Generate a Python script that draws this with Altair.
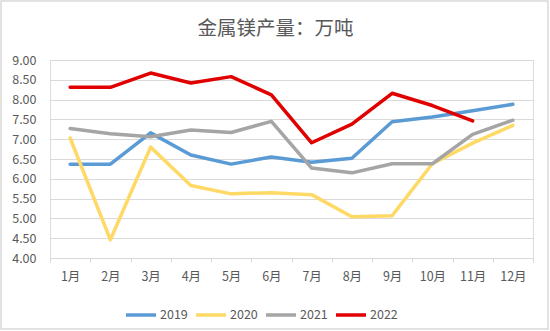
import json
import altair as alt
import pandas as pd

months = ["1月", "2月", "3月", "4月", "5月", "6月", "7月", "8月", "9月", "10月", "11月", "12月"]
years = ["2019", "2020", "2021", "2022"]
colors = ["#5B9BD5", "#FFD966", "#A5A5A5", "#E00000"]

v2019 = [6.37, 6.37, 7.16, 6.60, 6.37, 6.55, 6.42, 6.52, 7.44, 7.56, 7.72, 7.88]
v2020 = [7.03, 4.46, 6.80, 5.83, 5.62, 5.65, 5.60, 5.04, 5.07, 6.38, 6.90, 7.35]
v2021 = [7.27, 7.14, 7.06, 7.23, 7.17, 7.45, 6.27, 6.15, 6.38, 6.38, 7.12, 7.48]
v2022 = [8.31, 8.31, 8.67, 8.42, 8.58, 8.12, 6.91, 7.38, 8.16, 7.85, 7.46]

y_ticks = [4.0, 4.5, 5.0, 5.5, 6.0, 6.5, 7.0, 7.5, 8.0, 8.5, 9.0]

rows = []
for yr, vals in zip(years, [v2019, v2020, v2021, v2022]):
    for i, v in enumerate(vals):
        rows.append({"month": i + 1, "year": yr, "value": v})
df = pd.DataFrame(rows)

x_tick_vals = [i * 0.5 for i in range(1, 26)]
label_expr = "datum.value % 1 === 0 ? " + json.dumps(months, ensure_ascii=False) + "[datum.value - 1] : ''"

FONT = "Noto Sans CJK SC"
GRAY = "#595959"

lines = alt.Chart(df).mark_line(strokeWidth=3.5, strokeJoin="round", strokeCap="round").encode(
    x=alt.X("month:Q", scale=alt.Scale(domain=[0.5, 12.5], nice=False, zero=False),
            axis=alt.Axis(values=x_tick_vals, labelExpr=label_expr, title=None, grid=False,
                          labelOverlap=False, labelFont=FONT, labelFontSize=12.5, labelColor=GRAY,
                          labelPadding=8, domainColor="#D9D9D9", tickColor="#D9D9D9", tickSize=4,
                          tickOpacity={"condition": {"test": "datum.value % 1 === 0", "value": 0}, "value": 1})),
    y=alt.Y("value:Q", scale=alt.Scale(domain=[4, 9], nice=False, zero=False),
            axis=alt.Axis(values=y_ticks, format=".2f", title=None, domain=False, ticks=False,
                          gridColor="#D9D9D9", gridWidth=1, labelFont=FONT, labelFontSize=12.5,
                          labelColor=GRAY, labelPadding=14)),
    color=alt.Color("year:N", scale=alt.Scale(domain=years, range=colors),
                    legend=alt.Legend(orient="none", legendX=74, legendY=238, direction="horizontal",
                                      title=None, symbolType="stroke", symbolSize=900,
                                      symbolStrokeWidth=3.5, labelFont=FONT, labelFontSize=12.5,
                                      labelColor=GRAY, labelOffset=2, columnPadding=1)),
    order="month:Q",
)

frame = alt.Chart(pd.DataFrame({"a": [0]})).mark_rect(fill=None, stroke="#D9D9D9", strokeWidth=1.5).encode(
    x=alt.value(-49), x2=alt.value(498), y=alt.value(-59), y2=alt.value(269)
)

chart = alt.layer(frame, lines).properties(
    width=483, height=198,
    title=alt.TitleParams("金属镁产量：万吨", font=FONT, fontSize=19.5, fontWeight="normal",
                          color=GRAY, anchor="middle", frame="group", dx=-16, offset=-39),
    padding={"left": 50, "top": 60, "right": 17, "bottom": 73},
    autosize=alt.AutoSizeParams(type="none"),
).configure_view(stroke=None).configure(background="white")

chart.save("out.html", embed_options={"renderer": "svg", "actions": False})
